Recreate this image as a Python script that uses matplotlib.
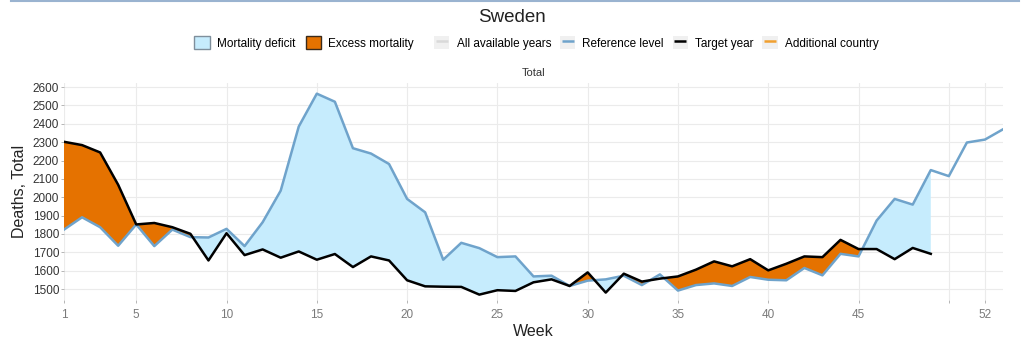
import numpy as np
import matplotlib
matplotlib.use("Agg")
import matplotlib.pyplot as plt
from matplotlib.patches import Patch
from matplotlib.lines import Line2D
from matplotlib.legend_handler import HandlerTuple

plt.rcParams['font.family'] = ['Liberation Sans', 'DejaVu Sans']

# weekly deaths, Sweden
weeks = np.arange(1, 54)
reference = [1824, 1891, 1837, 1736, 1852, 1734, 1824, 1783, 1781, 1828,
             1734, 1864, 2036, 2385, 2564, 2520, 2267, 2238, 2181, 1991,
             1918, 1660, 1752, 1723, 1674, 1678, 1569, 1573, 1517, 1546,
             1553, 1573, 1522, 1580, 1492, 1522, 1531, 1517, 1566, 1551,
             1548, 1615, 1575, 1692, 1678, 1873, 1991, 1960, 2148, 2115,
             2298, 2314, 2370]
target = [2302, 2284, 2244, 2068, 1852, 1860, 1837, 1801, 1656, 1804,
          1685, 1716, 1671, 1705, 1660, 1691, 1620, 1678, 1656, 1548,
          1515, 1513, 1512, 1470, 1494, 1490, 1537, 1553, 1517, 1591,
          1481, 1584, 1541, 1557, 1569, 1606, 1651, 1624, 1663, 1602,
          1638, 1678, 1674, 1768, 1718, 1718, 1663, 1724, 1692]
xticks = [1, 5, 10, 15, 20, 25, 30, 35, 40, 45, 50, 52]
xticklabels = ['1', '5', '10', '15', '20', '25', '30', '35', '40', '45', '', '52']

ref = np.array(reference, dtype=float)
tgt = np.array(target, dtype=float)
wk_t = weeks[:len(tgt)]
ref_t = ref[:len(tgt)]

c_deficit = '#c6ecfd'
c_excess = '#e57200'
c_ref = '#6fa3cb'

fig = plt.figure(figsize=(10.24, 3.43), dpi=100)
ax = fig.add_axes([0.0625, 0.125, 0.917, 0.633])

ax.fill_between(wk_t, ref_t, tgt, where=tgt >= ref_t, interpolate=True,
                color=c_excess, lw=0)
ax.fill_between(wk_t, ref_t, tgt, where=tgt <= ref_t, interpolate=True,
                color=c_deficit, lw=0)
ax.plot(weeks, ref, color=c_ref, lw=1.8, zorder=3)
ax.plot(wk_t, tgt, color='black', lw=1.8, zorder=4)

ax.set_xlim(1, 53)
ax.set_ylim(1440, 2622)
ax.set_xticks(xticks)
ax.set_xticklabels(xticklabels)
ax.set_yticks(np.arange(1500, 2601, 100))
ax.grid(True, color='#ebebeb', lw=0.8)
ax.set_axisbelow(True)
for s in ax.spines.values():
    s.set_visible(False)
ax.tick_params(axis='both', length=2.5, width=0.6, color='#aaaaaa', labelsize=8.5)
ax.tick_params(axis='y', labelcolor='#333333', pad=1)
ax.tick_params(axis='x', labelcolor='#7a7a7a', pad=4)

ax.set_xlabel('Week', fontsize=11.5, color='#222222', labelpad=2)
ax.set_ylabel('Deaths, Total', fontsize=11.5, color='#222222', labelpad=4)

fig.text(0.5, 0.948, 'Sweden', ha='center', va='center', fontsize=13.5, color='#222222')
fig.text(0.521, 0.787, 'Total', ha='center', va='center', fontsize=8, color='#333333')

# top rule
fig.add_artist(Line2D([0.011, 0.995], [0.996, 0.996], color='#9ab3d0', lw=1.5,
                      transform=fig.transFigure))

fill_handles = [Patch(facecolor=c_deficit, edgecolor='#7f8f9c', lw=1.0),
                Patch(facecolor=c_excess, edgecolor='#3a2a1a', lw=1.0)]
fig.legend(fill_handles, ['Mortality deficit', 'Excess mortality'],
           loc='center', bbox_to_anchor=(0.297, 0.875), ncol=2,
           frameon=False, fontsize=8.5, handlelength=1.3, handleheight=1.3,
           handletextpad=0.6, columnspacing=0.9)

# line keys: short dash over a light grey square
bg = '#f0f0f0'
line_cols = ['#d9d9d9', c_ref, 'black', '#f0a030']
line_handles = [(Patch(facecolor=bg, edgecolor='none'),
                 Line2D([], [], color=c, marker='_', markersize=9,
                        markeredgewidth=1.8, linestyle='none')) for c in line_cols]
fig.legend(line_handles, ['All available years', 'Reference level', 'Target year',
                          'Additional country'],
           handler_map={tuple: HandlerTuple(ndivide=1)}, numpoints=1,
           loc='center', bbox_to_anchor=(0.641, 0.875), ncol=4,
           frameon=False, fontsize=8.5, handlelength=1.3, handleheight=1.3,
           handletextpad=0.6, columnspacing=0.75)

fig.savefig('out.png', dpi=100)
